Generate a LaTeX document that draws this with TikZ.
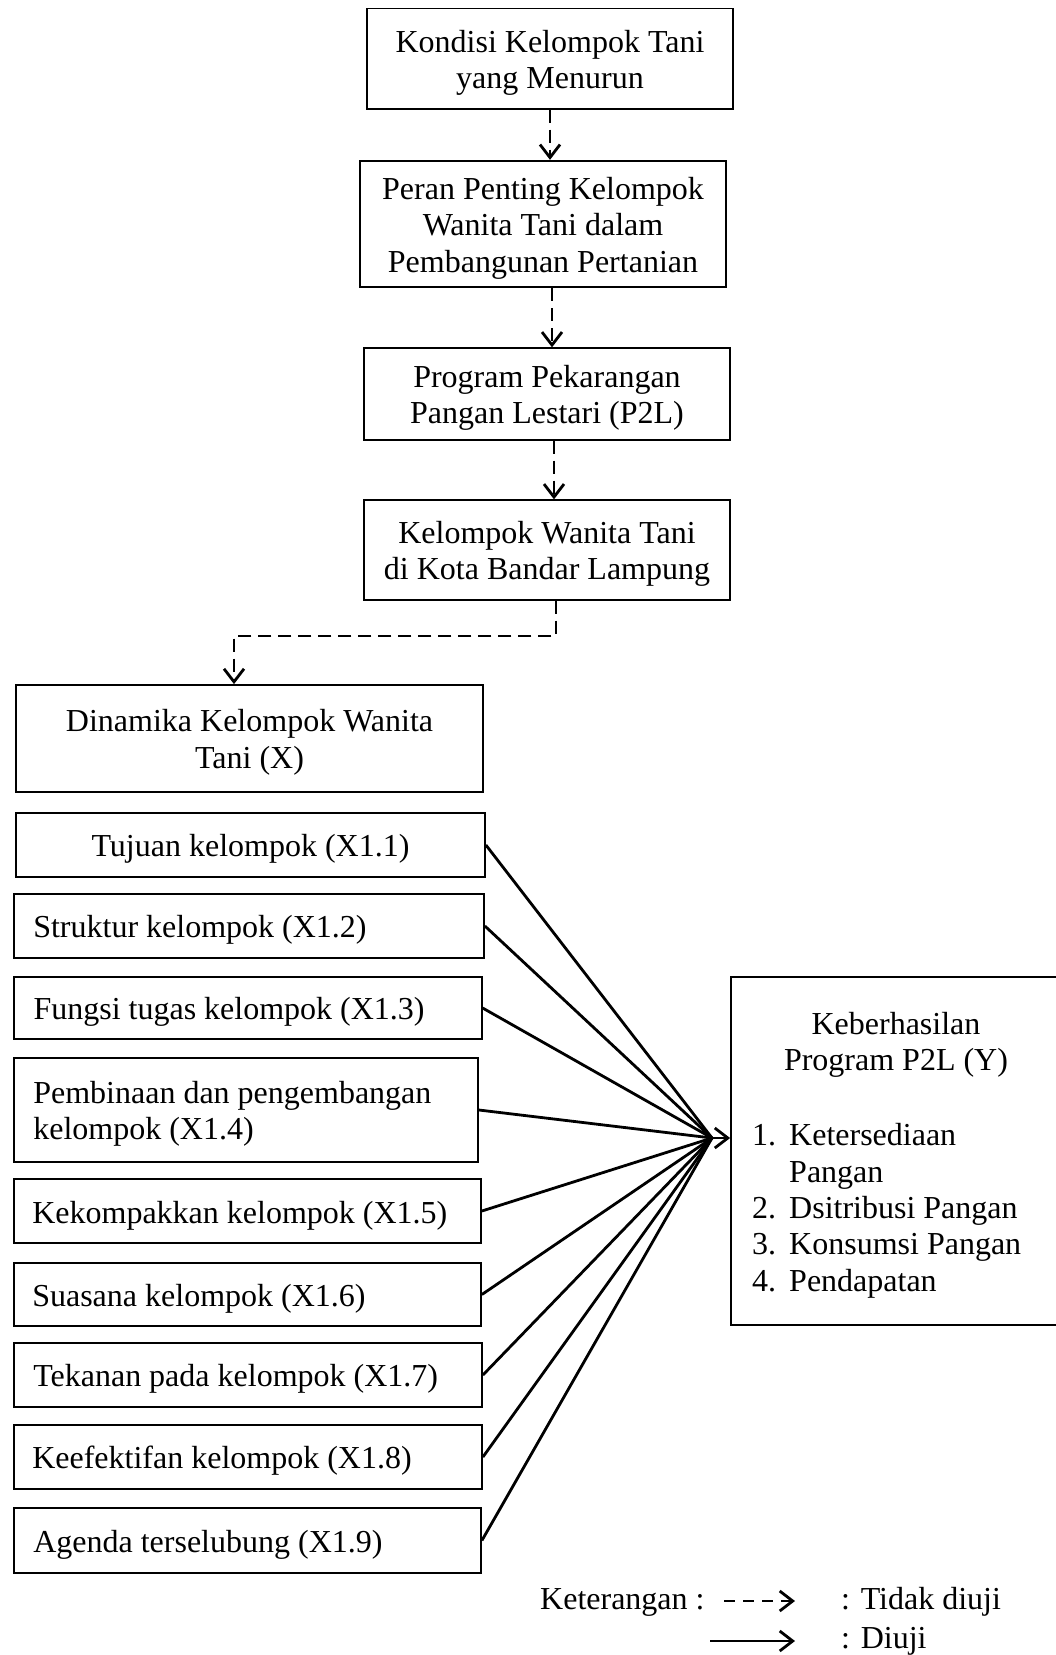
\documentclass[tikz,border=0pt]{standalone}
\usepackage{fontspec}
\setmainfont{Liberation Serif}
\usetikzlibrary{arrows.meta}
\newcommand\fsz{\fontsize{32}{36.5}\selectfont}
\begin{document}
\begin{tikzpicture}[x=1pt,y=-1pt,
  box/.style={draw, line width=1.8pt, inner sep=0pt},
  txt/.style={inner sep=0pt, font=\fsz},
  ctxt/.style={txt, align=center},
  ltxt/.style={txt, align=left, anchor=west},
  tip/.style={-{Straight Barb[length=13pt,width=20pt]}},
  dashline/.style={line width=2.8pt, dash pattern=on 13pt off 7pt},
  solidline/.style={line width=2.8pt},
  legdash/.style={line width=2.8pt, dash pattern=on 11pt off 8pt}]
\useasboundingbox (0,0) rectangle (1056,1655);

% top chain
\node[box, minimum width=365.5pt, minimum height=100.4pt] (b1) at (550,58.6) {};
\node[ctxt] (b1t) at ([yshift=-4pt]b1.center) {Kondisi Kelompok Tani\\yang Menurun};
\node[box, minimum width=366.5pt, minimum height=126.5pt] (b2) at (543,224) {};
\node[ctxt] (b2t) at ([yshift=-4pt]b2.center) {Peran Penting Kelompok\\Wanita Tani dalam\\Pembangunan Pertanian};
\node[box, minimum width=366pt, minimum height=91.5pt] (b3) at (547,394) {};
\node[ctxt] (b3t) at ([yshift=-4pt]b3.center) {Program Pekarangan\\Pangan Lestari (P2L)};
\node[box, minimum width=366pt, minimum height=99.5pt] (b4) at (547,550) {};
\node[ctxt] (b4t) at ([yshift=-4pt]b4.center) {Kelompok Wanita Tani\\di Kota Bandar Lampung};
\node[box, minimum width=467pt, minimum height=107pt] (b5) at (249.5,738.5) {};
\node[ctxt] (b5t) at ([yshift=-4pt]b5.center) {Dinamika Kelompok Wanita\\Tani (X)};

\draw[dashline, tip] (b1.south -| 550,0) -- (b2.north -| 550,0);
\draw[dashline, tip] (b2.south -| 552,0) -- (b3.north -| 552,0);
\draw[dashline, tip] (b3.south -| 554,0) -- (b4.north -| 554,0);
\coordinate (bend1) at (556,636);
\coordinate (bend2) at (234,636);
\draw[dashline, tip] (b4.south -| bend1) -- (bend1) -- (bend2) -- (b5.north -| bend2);

% indicator boxes
\node[box, minimum width=469pt, minimum height=64pt] (x1) at (250.5,845) {};
\node[ctxt] (x1t) at ([yshift=-4pt]x1.center) {Tujuan kelompok (X1.1)};
\node[box, minimum width=470pt, minimum height=63.5pt] (x2) at (249,926) {};
\node[ltxt] (x2t) at ([xshift=20pt,yshift=-4pt]x2.west) {Struktur kelompok (X1.2)};
\node[box, minimum width=467.5pt, minimum height=62pt] (x3) at (248,1008) {};
\node[ltxt] (x3t) at ([xshift=20pt,yshift=-4pt]x3.west) {Fungsi tugas kelompok (X1.3)};
\node[box, minimum width=464pt, minimum height=104pt] (x4) at (246,1110) {};
\node[ltxt] (x4t) at ([xshift=20pt,yshift=-4pt]x4.west) {Pembinaan dan pengembangan\\kelompok (X1.4)};
\node[box, minimum width=467pt, minimum height=63.5pt] (x5) at (247.5,1211) {};
\node[ltxt] (x5t) at ([xshift=19pt,yshift=-5pt]x5.west) {Kekompakkan kelompok (X1.5)};
\node[box, minimum width=467pt, minimum height=63pt] (x6) at (247.5,1294.5) {};
\node[ltxt] (x6t) at ([xshift=19pt,yshift=-4pt]x6.west) {Suasana kelompok (X1.6)};
\node[box, minimum width=468pt, minimum height=63.6pt] (x7) at (248,1375) {};
\node[ltxt] (x7t) at ([xshift=20pt,yshift=-4pt]x7.west) {Tekanan pada kelompok (X1.7)};
\node[box, minimum width=468pt, minimum height=63.4pt] (x8) at (248,1457) {};
\node[ltxt] (x8t) at ([xshift=19pt,yshift=-4pt]x8.west) {Keefektifan kelompok (X1.8)};
\node[box, minimum width=467pt, minimum height=65pt] (x9) at (247.5,1540.5) {};
\node[ltxt] (x9t) at ([xshift=20pt,yshift=-4pt]x9.west) {Agenda terselubung (X1.9)};

% outcome box
\node[box, minimum width=327pt, minimum height=348pt] (Y) at (894.5,1151) {};
\node[txt, anchor=base] (yt1) at (896,1034) {Keberhasilan};
\node[txt, anchor=base] (yt2) at (896,1070) {Program P2L (Y)};
\node[txt, anchor=base west] (n1) at (752,1145) {1.};
\node[txt, anchor=base west] (i1) at (789,1145) {Ketersediaan};
\node[txt, anchor=base west] (i1b) at (789,1182) {Pangan};
\node[txt, anchor=base west] (n2) at (752,1218) {2.};
\node[txt, anchor=base west] (i2) at (789,1218) {Dsitribusi Pangan};
\node[txt, anchor=base west] (n3) at (752,1254) {3.};
\node[txt, anchor=base west] (i3) at (789,1254) {Konsumsi Pangan};
\node[txt, anchor=base west] (n4) at (752,1291) {4.};
\node[txt, anchor=base west] (i4) at (789,1291) {Pendapatan};

% tested connectors
\coordinate (conv) at (712,1138);
\foreach \i in {1,...,9} \draw[solidline] (x\i.east) -- (conv);
\draw[solidline, tip] (conv) -- (Y.west |- conv);

% legend
\node[txt, anchor=base west] (ket) at (540,1609) {Keterangan :};
\coordinate (l1a) at (724,1601);
\coordinate (l1b) at (795,1601);
\draw[legdash, tip] (l1a) -- (l1b);
\node[txt, anchor=base west] (l1t) at (841,1609) {: Tidak diuji};
\coordinate (l2a) at (710,1641);
\coordinate (l2b) at (795,1641);
\draw[solidline, tip] (l2a) -- (l2b);
\node[txt, anchor=base west] (l2t) at (841,1648) {: Diuji};
\end{tikzpicture}
\end{document}
